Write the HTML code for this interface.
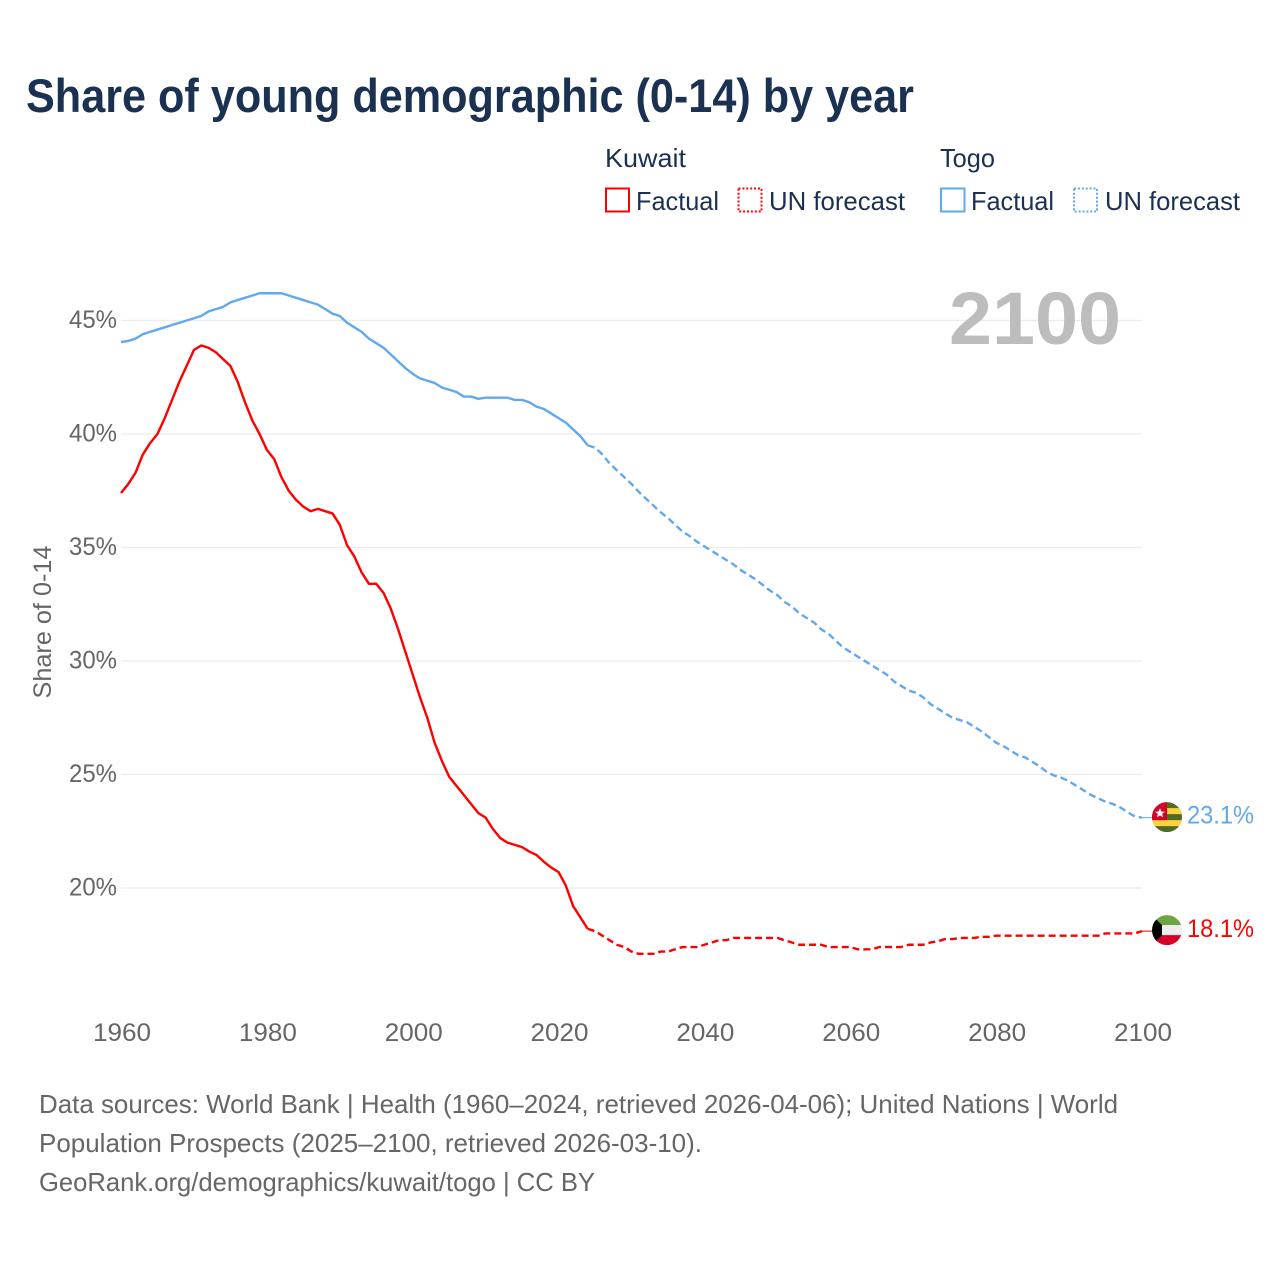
<!DOCTYPE html>
<html lang="en">
<head>
<meta charset="utf-8">
<title>Share of young demographic (0-14) by year</title>
<style>
html,body{margin:0;padding:0;background:#fff;}
svg{display:block;font-family:"Liberation Sans",sans-serif;}
</style>
</head>
<body>
<svg id="chart" xmlns="http://www.w3.org/2000/svg" width="1280" height="1280" viewBox="0 0 1280 1280">
  <defs>
    <clipPath id="flag-clip"><circle cx="0" cy="0" r="15"></circle></clipPath>
  </defs>
  <rect x="0" y="0" width="1280" height="1280" fill="#ffffff"></rect>
  <text x="26" y="112" font-size="47" font-weight="700" fill="#1a3152" textLength="888" lengthAdjust="spacingAndGlyphs">Share of young demographic (0-14) by year</text>

  <g font-size="26" fill="#1a3152">
    <text x="605" y="167" textLength="81" lengthAdjust="spacingAndGlyphs">Kuwait</text>
    <text x="940" y="167" textLength="55" lengthAdjust="spacingAndGlyphs">Togo</text>
    <g>
      <rect x="606" y="188.5" width="23" height="23" fill="none" stroke="#ff0000" stroke-width="2"></rect>
      <text x="636" y="210" textLength="83" lengthAdjust="spacingAndGlyphs">Factual</text>
    </g>
    <g>
      <rect x="738.5" y="188.5" width="23" height="23" fill="none" stroke="#ff0000" stroke-width="2" stroke-dasharray="2 1.9"></rect>
      <text x="769" y="210" textLength="136" lengthAdjust="spacingAndGlyphs">UN forecast</text>
    </g>
    <g>
      <rect x="941" y="188.5" width="23.5" height="23" fill="none" stroke="#62a8ee" stroke-width="2"></rect>
      <text x="971" y="210" textLength="83" lengthAdjust="spacingAndGlyphs">Factual</text>
    </g>
    <g>
      <rect x="1074" y="188.5" width="23" height="23" fill="none" stroke="#62a8ee" stroke-width="2" stroke-dasharray="2 1.9"></rect>
      <text x="1105" y="210" textLength="135" lengthAdjust="spacingAndGlyphs">UN forecast</text>
    </g>
  </g>

  <g id="grid"></g>
  <text x="949" y="344" font-size="74" font-weight="700" fill="#bdbdbd" textLength="172" lengthAdjust="spacingAndGlyphs">2100</text>
  <g id="y-axis" font-size="25" fill="#666666"></g>
  <g id="x-axis" font-size="25" fill="#666666"></g>
  <text transform="translate(51,622) rotate(-90)" text-anchor="middle" font-size="25" fill="#666666" textLength="153" lengthAdjust="spacingAndGlyphs">Share of 0-14</text>
  <g id="series"></g>
  <g id="ends"></g>

  <g font-size="26" fill="#666666">
    <text x="39" y="1113" textLength="1079" lengthAdjust="spacingAndGlyphs">Data sources: World Bank | Health (1960–2024, retrieved 2026-04-06); United Nations | World</text>
    <text x="39" y="1152" textLength="663" lengthAdjust="spacingAndGlyphs">Population Prospects (2025–2100, retrieved 2026-03-10).</text>
    <text x="39" y="1191" textLength="556" lengthAdjust="spacingAndGlyphs">GeoRank.org/demographics/kuwait/togo | CC BY</text>
  </g>
</svg>
<script>
const xTickYears = [1960,1980,2000,2020,2040,2060,2080,2100];
const yTickValues = [20,25,30,35,40,45];
const firstFactualYear = 1960;
const firstForecastYear = 2024;

const kuwaitFactual = [
  37.4,37.8,38.3,39.1,39.6,40.0,40.7,41.5,42.3,43.0,
  43.7,43.9,43.8,43.6,43.3,43.0,42.3,41.4,40.6,40.0,
  39.3,38.9,38.1,37.5,37.1,36.8,36.6,36.7,36.6,36.5,
  36.0,35.1,34.6,33.9,33.4,33.4,33.0,32.3,31.4,30.4,
  29.4,28.4,27.5,26.4,25.6,24.9,24.5,24.1,23.7,23.3,
  23.1,22.6,22.2,22.0,21.9,21.8,21.6,21.45,21.15,20.9,
  20.7,20.1,19.2,18.7,18.2
];
const kuwaitForecast = [
  18.2,18.1,17.9,17.7,17.5,17.4,17.2,17.1,17.1,17.1,
  17.2,17.2,17.3,17.4,17.4,17.4,
  17.5,17.6,17.7,17.7,17.8,17.8,17.8,17.8,17.8,17.8,
  17.8,17.7,17.6,17.5,17.5,17.5,17.5,17.4,17.4,17.4,
  17.4,17.3,17.3,17.3,17.4,17.4,17.4,17.4,17.5,17.5,
  17.5,17.6,17.65,17.75,17.75,17.8,17.8,17.8,17.85,17.85,
  17.9,17.9,17.9,17.9,17.9,17.9,17.9,17.9,17.9,17.9,
  17.9,17.9,17.9,17.9,17.9,18.0,18.0,18.0,18.0,18.0,
  18.1
];
const togoFactual = [
  44.05,44.1,44.2,44.4,44.5,44.6,44.7,44.8,44.9,45.0,
  45.1,45.2,45.4,45.5,45.6,45.8,45.9,46.0,46.1,46.2,
  46.2,46.2,46.2,46.1,46.0,45.9,45.8,45.7,45.5,45.3,
  45.2,44.9,44.7,44.5,44.2,44.0,43.8,43.5,43.2,42.9,
  42.65,42.45,42.35,42.25,42.05,41.95,41.85,41.65,41.65,41.55,
  41.6,41.6,41.6,41.6,41.5,41.5,41.4,41.2,41.1,40.9,
  40.7,40.5,40.2,39.9,39.5
];
const togoForecast = [
  39.5,39.4,39.1,38.7,38.4,38.1,
  37.8,37.45,37.15,36.85,36.55,36.3,36.0,35.7,35.5,35.25,
  35.05,34.85,34.65,34.45,34.25,34.0,33.8,33.6,33.35,33.1,
  32.9,32.6,32.4,32.1,31.9,31.7,31.4,31.2,30.9,30.6,
  30.4,30.2,30.0,29.8,29.6,29.4,29.1,28.9,28.7,28.6,
  28.4,28.1,27.9,27.7,27.5,27.4,27.3,27.1,26.9,26.65,
  26.4,26.25,26.05,25.85,25.75,25.55,25.35,25.1,24.95,24.85,
  24.7,24.5,24.3,24.1,23.95,23.8,23.7,23.55,23.35,23.15,
  23.1
];

const NS = 'http://www.w3.org/2000/svg';
function xScale(year){ return 121 + (year - 1960) * (1021 / 140); }
function yScale(v){ return 888 - (v - 20) * 22.7; }
function make(tag, parent){
  const el = document.createElementNS(NS, tag);
  parent.appendChild(el);
  return el;
}
function pathFrom(values, startYear){
  return values.map(function(v, i){
    return (i ? 'L' : 'M') + xScale(startYear + i).toFixed(2) + ' ' + yScale(v).toFixed(2);
  }).join(' ');
}

const grid = document.getElementById('grid');
const yAxis = document.getElementById('y-axis');
yTickValues.forEach(function(v){
  const line = make('line', grid);
  
  
  line.setAttribute('x1', 121);
  line.setAttribute('x2', 1142);
  line.setAttribute('y1', yScale(v));
  line.setAttribute('y2', yScale(v));
  line.setAttribute('stroke', '#ececec');
  line.setAttribute('stroke-width', '1.2');
  const label = make('text', yAxis);
  
  
  label.setAttribute('x', 69);
  label.setAttribute('y', yScale(v) + 7.5);
  label.setAttribute('textLength', 48);
  label.setAttribute('lengthAdjust', 'spacingAndGlyphs');
  label.textContent = v + '%';
});

const xAxis = document.getElementById('x-axis');
xTickYears.forEach(function(year){
  const label = make('text', xAxis);
  
  
  label.setAttribute('x', xScale(year) + 1 - 29);
  label.setAttribute('y', 1041);
  label.setAttribute('textLength', 58);
  label.setAttribute('lengthAdjust', 'spacingAndGlyphs');
  label.textContent = String(year);
});

const seriesGroup = document.getElementById('series');
function drawLine(values, startYear, color, dashed, name){
  const p = make('path', seriesGroup);
  
  
  p.setAttribute('d', pathFrom(values, startYear));
  p.setAttribute('fill', 'none');
  p.setAttribute('stroke', color);
  p.setAttribute('stroke-width', '2.4');
  p.setAttribute('stroke-linejoin', 'round');
  if (dashed) p.setAttribute('stroke-dasharray', '7 4');
}
drawLine(togoFactual, firstFactualYear, '#62a8ee', false, 'line-togo-factual');
drawLine(togoForecast, firstForecastYear, '#62a8ee', true, 'line-togo-forecast');
drawLine(kuwaitFactual, firstFactualYear, '#ff0000', false, 'line-kuwait-factual');
drawLine(kuwaitForecast, firstForecastYear, '#ff0000', true, 'line-kuwait-forecast');

const ends = document.getElementById('ends');
function connector(value, color, name){
  const l = make('line', ends);
  
  
  l.setAttribute('x1', xScale(2100));
  l.setAttribute('x2', 1153);
  l.setAttribute('y1', yScale(value));
  l.setAttribute('y2', yScale(value));
  l.setAttribute('stroke', color);
  l.setAttribute('stroke-width', '1');
}
function shape(tag, parent, attrs){
  const s = make(tag, parent);
  Object.keys(attrs).forEach(function(k){ s.setAttribute(k, attrs[k]); });
  return s;
}
function endLabel(value, color, name){
  const t = make('text', ends);
  
  
  t.setAttribute('x', 1187);
  t.setAttribute('y', yScale(value) + 6);
  t.setAttribute('font-size', '25');
  t.setAttribute('fill', color);
  t.setAttribute('textLength', 67);
  t.setAttribute('lengthAdjust', 'spacingAndGlyphs');
  t.textContent = value.toFixed(1) + '%';
}

const togoLast = togoForecast[togoForecast.length - 1];
const kuwaitLast = kuwaitForecast[kuwaitForecast.length - 1];
connector(togoLast, '#62a8ee', 'connector-togo');
connector(kuwaitLast, '#ff0000', 'connector-kuwait');

const togoFlag = make('g', ends);


togoFlag.setAttribute('transform', 'translate(1167,' + (yScale(togoLast) - 0.5) + ')');
const togoInner = make('g', togoFlag);
togoInner.setAttribute('clip-path', 'url(#flag-clip)');
shape('rect', togoInner, {x:-15, y:-15, width:30, height:30, fill:'#4f6b24'});
shape('rect', togoInner, {x:-15, y:-9, width:30, height:6, fill:'#ffd040'});
shape('rect', togoInner, {x:-15, y:3, width:30, height:6, fill:'#ffd040'});
shape('rect', togoInner, {x:-15, y:-15, width:15, height:18, fill:'#d80027'});
shape('polygon', togoInner, {points:'-7,-9 -5.6,-5.6 -2,-5.4 -4.8,-3.2 -3.9,0.3 -7,-1.6 -10.1,0.3 -9.2,-3.2 -12,-5.4 -8.4,-5.6', fill:'#f5f5f5'});

const kuwaitFlag = make('g', ends);


kuwaitFlag.setAttribute('transform', 'translate(1167,' + (yScale(kuwaitLast) - 1) + ')');
const kuwaitInner = make('g', kuwaitFlag);
kuwaitInner.setAttribute('clip-path', 'url(#flag-clip)');
shape('rect', kuwaitInner, {x:-15, y:-15, width:30, height:10, fill:'#6da544'});
shape('rect', kuwaitInner, {x:-15, y:-5, width:30, height:10, fill:'#eeeeee'});
shape('rect', kuwaitInner, {x:-15, y:5, width:30, height:10, fill:'#d80027'});
shape('polygon', kuwaitInner, {points:'-15,-15 -5,-5 -5,5 -15,15', fill:'#000000'});

endLabel(togoLast, '#62a8ee', 'end-label-togo');
endLabel(kuwaitLast, '#ff0000', 'end-label-kuwait');
</script>
</body>
</html>
